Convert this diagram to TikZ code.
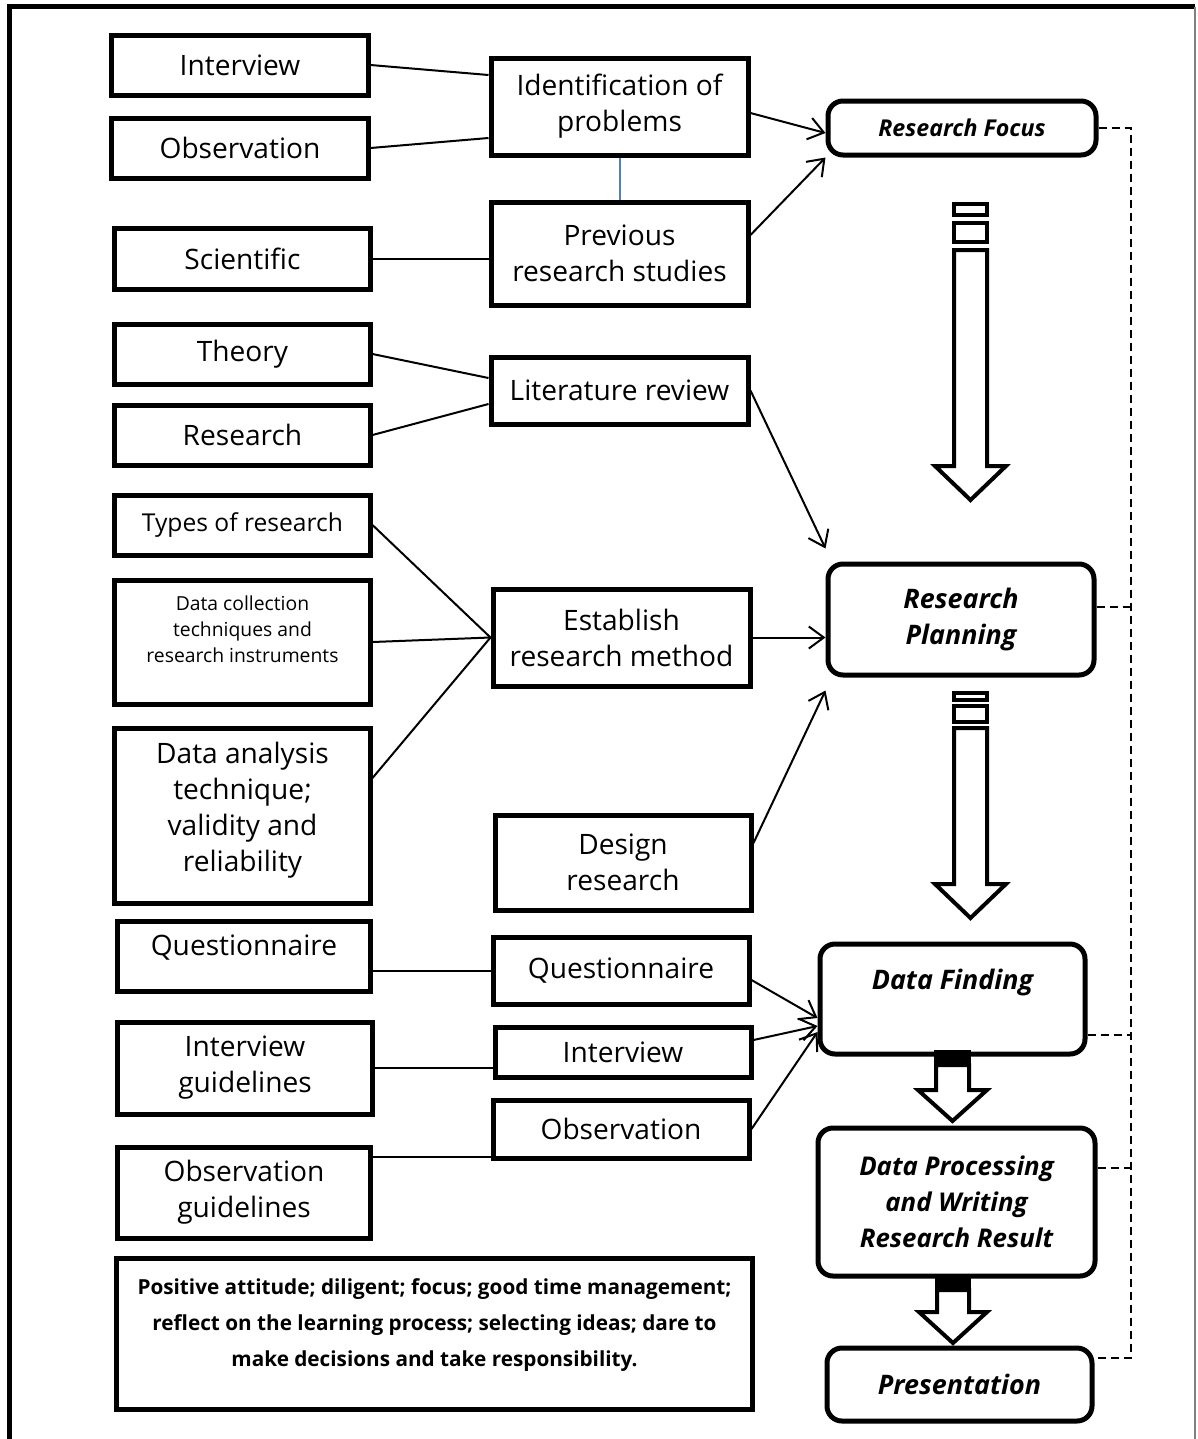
\documentclass[tikz,border=0pt]{standalone}
\usepackage{fontspec}
\setmainfont{Open Sans}
\usetikzlibrary{arrows.meta}
\definecolor{lineblue}{RGB}{79,129,189}

\begin{document}
\begin{tikzpicture}[x=0.2mm, y=-0.2mm, >={Straight Barb[length=3mm,width=4.4mm]},
    box/.style={draw, line width=1mm, inner sep=0pt, align=center, font=\fontsize{16}{20.5}\selectfont},
    rbox/.style={draw, line width=1mm, rounded corners=3mm, inner sep=0pt, align=center, font=\fontsize{15.3}{21}\selectfont\bfseries\itshape},
    link/.style={line width=0.4mm},
    dline/.style={line width=0.3mm, dash pattern=on 1.6mm off 1mm},
    blk/.style={line width=0.8mm, fill=white, line join=miter}]
    \useasboundingbox (0,0) rectangle (1198,1439);

    % Marco
    \draw[line width=1mm] (9.5,1439) -- (9.5,6.5) -- (1195,6.5);
    \draw[gray, line width=0.3mm] (1195,6.5) -- (1195,1439);

    % Columna izquierda
    \node[box, minimum width=51.2mm, minimum height=12mm] (intv) at (240,65) {Interview};
    \node[box, minimum width=51.2mm, minimum height=12mm] (obsv) at (240,148) {Observation};
    \node[box, minimum width=51mm, minimum height=12.2mm] (sci) at (242.5,258.5) {Scientific};
    \node[box, minimum width=51mm, minimum height=12mm] (thry) at (242.5,354) {Theory};
    \node[box, minimum width=51mm, minimum height=12mm] (resr) at (242.5,435) {Research};
    \node[box, minimum width=51mm, minimum height=12mm, font=\fontsize{14}{18}\selectfont] (types) at (242.5,525) {Types of research};
    \node[box, minimum width=51mm, minimum height=24.8mm, text depth=5mm, font=\fontsize{11}{14.8}\selectfont] (dcol) at (242.5,642) {Data collection\\techniques and\\research instruments};
    \node[box, minimum width=51mm, minimum height=35mm, text depth=3.3mm] (dana) at (242.5,815.5) {Data analysis\\technique;\\validity and\\reliability};
    \node[box, minimum width=50.4mm, minimum height=14mm, text depth=4.4mm] (qst) at (244,956) {Questionnaire};
    \node[box, minimum width=50.8mm, minimum height=18.4mm] (intg) at (245,1068) {Interview\\guidelines};
    \node[box, minimum width=50.4mm, minimum height=18.2mm] (obsg) at (244,1192.5) {Observation\\guidelines};

    % Columna central
    \node[box, minimum width=51.4mm, minimum height=19.4mm] (ident) at (619.5,106.5) {Identification of\\problems};
    \node[box, minimum width=51.4mm, minimum height=20.6mm] (prev) at (619.5,253.5) {Previous\\research studies};
    \node[box, minimum width=51.4mm, minimum height=13.4mm] (litr) at (619.5,390.5) {Literature review};
    \node[box, minimum width=51.4mm, minimum height=19.4mm] (estab) at (621.5,637.5) {Establish\\research method};
    \node[box, minimum width=51.2mm, minimum height=19mm] (dsgn) at (623,862.5) {Design\\research};
    \node[box, minimum width=51.2mm, minimum height=13.4mm] (qst2) at (621,970.5) {Questionnaire};
    \node[box, minimum width=51.2mm, minimum height=10mm] (intv2) at (623,1052) {Interview};
    \node[box, minimum width=51.2mm, minimum height=11.6mm] (obsv2) at (621,1129) {Observation};

    \node[box, minimum width=127mm, minimum height=30.2mm, text depth=4.5mm, font=\fontsize{11.8}{20.5}\selectfont\bfseries] (att) at (434.5,1333.5)
        {Positive attitude; diligent; focus; good time management;\\reflect on the learning process; selecting ideas; dare to\\make decisions and take responsibility.};

    % Columna derecha
    \node[rbox, minimum width=53.6mm, minimum height=10.8mm, font=\fontsize{13.2}{15}\selectfont\bfseries\itshape] (focus) at (962,128) {Research Focus};
    \node[rbox, minimum width=53.2mm, minimum height=22.2mm] (plan) at (961,619.5) {Research\\Planning};
    \node[rbox, minimum width=53mm, minimum height=22mm, text depth=8mm] (find) at (952.5,999) {Data Finding};
    \node[rbox, minimum width=55.4mm, minimum height=29.6mm, font=\fontsize{14.7}{20.5}\selectfont\bfseries\itshape] (proc) at (956.5,1202) {Data Processing\\and Writing\\Research Result};
    \node[rbox, minimum width=53mm, minimum height=14.6mm] (pres) at (959.5,1384.5) {Presentation};

    % Lineas hacia la columna central
    \draw[link] (intv.east) -- ([yshift=6.3mm]ident.west);
    \draw[link] (obsv.east) -- ([yshift=-6.3mm]ident.west);
    \draw[lineblue, line width=0.4mm] (ident.south) -- (prev.north);
    \draw[link] (sci.east) -- (sci.east -| prev.west);
    \draw[link] (thry.east) -- ([yshift=2.5mm]litr.west);
    \draw[link] (resr.east) -- ([yshift=-2.7mm]litr.west);
    \draw[link] (types.east) -- (estab.west);
    \draw[link] (dcol.east) -- (estab.west);
    \draw[link] ([yshift=7.5mm]dana.east) -- (estab.west);
    \draw[link] (qst2.west -| qst.east) -- (qst2.west);
    \draw[link] (intg.east) -- (intg.east -| intv2.west);
    \coordinate (og) at ([yshift=-5.6mm]obsv2.west);
    \draw[link] (og -| obsg.east) -- (og);

    % Flechas hacia la columna derecha
    \draw[link, ->] ([yshift=-1.3mm]ident.east) -- ([yshift=-1mm]focus.west);
    \draw[link, ->] ([yshift=3.7mm]prev.east) -- (focus.south west);
    \draw[link, ->] (litr.east) -- ([yshift=2.6mm]plan.north west);
    \draw[link, ->] (estab.east) -- (estab.east -| plan.west);
    \draw[link, ->] ([yshift=3.9mm]dsgn.east) -- ([yshift=-2.6mm]plan.south west);
    \draw[link, ->] ([yshift=-1.9mm]qst2.east) -- ([yshift=-3.8mm]find.west);
    \draw[link, ->] ([yshift=2.4mm]intv2.east) -- ([yshift=-5.4mm]find.west);
    \draw[link, ->] (obsv2.east) -- ([yshift=-6.6mm]find.west);

    % Linea punteada
    \coordinate (d1) at (1131,128);
    \coordinate (d2) at ([yshift=2.5mm]plan.east);
    \coordinate (d3) at ([yshift=-7.2mm]find.east);
    \coordinate (d4) at ([yshift=6.8mm]proc.east);
    \coordinate (d5) at ([yshift=5.3mm]pres.east);
    \draw[dline] (focus.east) -- (d1) -- (d1 |- d5) -- (d5);
    \draw[dline] (d2) -- (d2 -| d1);
    \draw[dline] (d3) -- (d3 -| d1);
    \draw[dline] (d4) -- (d4 -| d1);

    % Flechas de bloque
    \draw[blk] (954,204) rectangle (987,215);
    \draw[blk] (954,223) rectangle (987,242);
    \draw[blk] (954,250) -- (987,250) -- (987,466) -- (1006,466) -- (970.5,500) -- (935,466) -- (954,466) -- cycle;
    \draw[blk] (954,693) rectangle (987,700);
    \draw[blk] (954,706) rectangle (987,722);
    \draw[blk] (954,728) -- (987,728) -- (987,884) -- (1006,884) -- (970.5,918) -- (935,884) -- (954,884) -- cycle;
    \fill (934,1050) rectangle (971,1065);
    \draw[blk] (936,1065) -- (969,1065) -- (969,1090) -- (987,1090) -- (952.5,1121) -- (918,1090) -- (936,1090) -- cycle;
    \fill (935,1276) rectangle (971,1290);
    \draw[blk] (937,1290) -- (969,1290) -- (969,1312) -- (987,1312) -- (953,1343) -- (919,1312) -- (937,1312) -- cycle;
\end{tikzpicture}
\end{document}
